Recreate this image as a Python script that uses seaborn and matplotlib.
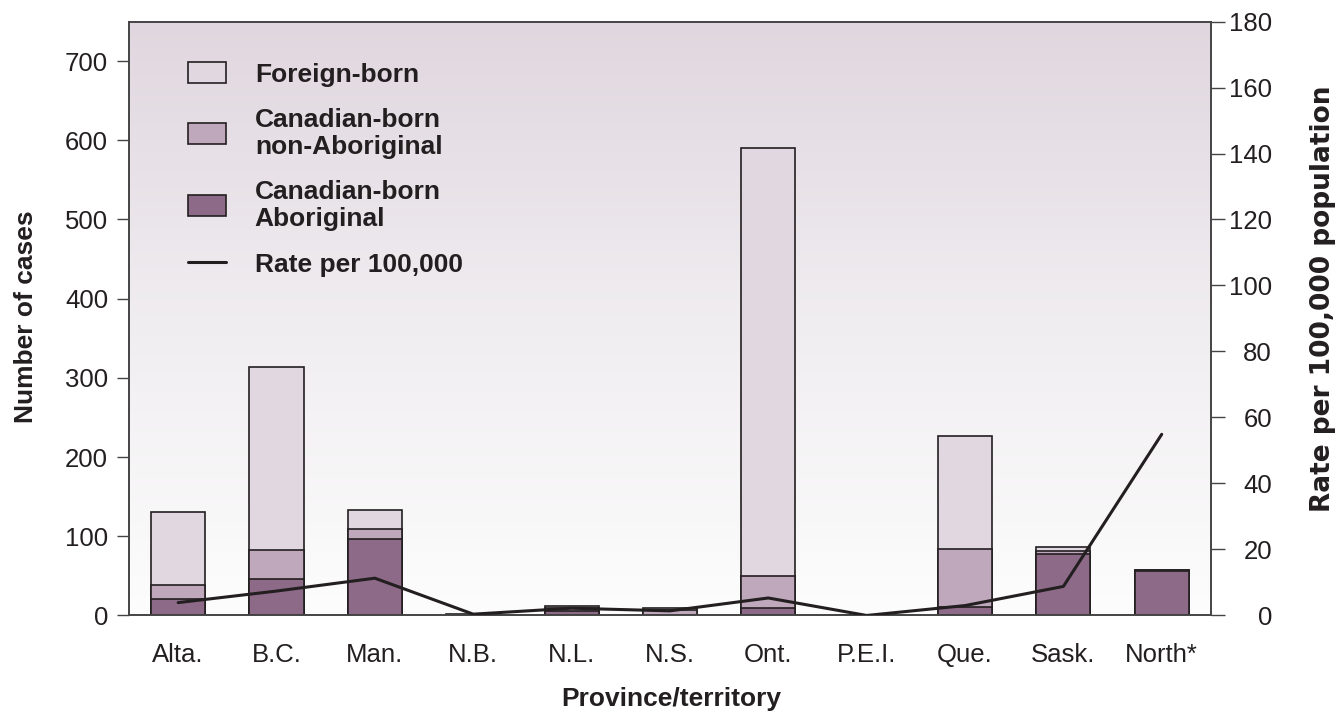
import numpy as np
import pandas as pd
import matplotlib
matplotlib.use("Agg")
import matplotlib.pyplot as plt
from matplotlib.colors import LinearSegmentedColormap
from matplotlib.patches import Patch
from matplotlib.lines import Line2D
import seaborn as sns

# --- data ---
provinces = ["Alta.", "B.C.", "Man.", "N.B.", "N.L.", "N.S.", "Ont.", "P.E.I.", "Que.", "Sask.", "North*"]
aboriginal = [21, 46, 96, 0, 6, 1, 9, 0, 11, 78, 56]
non_aboriginal = [18, 37, 13, 1, 4, 6, 41, 0, 73, 3, 1]
foreign_born = [92, 231, 24, 1, 2, 2, 540, 0, 143, 6, 1]
rate = [3.9, 7.4, 11.3, 0.4, 2.2, 1.4, 5.3, 0.0, 3.0, 8.8, 54.9]

# --- style ---
sns.set_style("white")
plt.rcParams["font.family"] = ["Liberation Sans", "DejaVu Sans"]

c_foreign = "#e1d7e0"
c_nonab = "#bfa8bb"
c_ab = "#8e6a89"
c_edge = "#231f20"
c_axis = "#444444"
fs = 18.5

df = pd.DataFrame({
    "province": provinces,
    "ab": aboriginal,
    "nonab": non_aboriginal,
    "foreign": foreign_born,
})
df["mid"] = df["ab"] + df["nonab"]
df["total"] = df["mid"] + df["foreign"]

fig = plt.figure(figsize=(13.38, 7.17), dpi=100)
ax = fig.add_axes([0.0964, 0.1416, 0.8086, 0.8284])

# gradient background (light mauve at top, almost white at bottom)
grad = LinearSegmentedColormap.from_list("bg", ["#fdfdfd", "#f0edf0", "#e0d6df"])
ax.imshow(np.linspace(0, 1, 256).reshape(-1, 1), cmap=grad, origin="lower",
          extent=[0, 1, 0, 1], transform=ax.transAxes, aspect="auto", zorder=0)

# stacked bars drawn as overlapping cumulative totals
for col, color in [("total", c_foreign), ("mid", c_nonab), ("ab", c_ab)]:
    sns.barplot(data=df, x="province", y=col, color=color, edgecolor=c_edge,
                linewidth=1.2, width=0.55, saturation=1, ax=ax, zorder=2)

ax.set_xlim(-0.5, 10.5)
ax.set_ylim(0, 750)
ax.set_yticks(range(0, 701, 100))
ax.set_xticks(np.arange(len(provinces)))
ax.set_xticklabels(provinces)
ax.set_xticks(np.arange(-0.5, 11, 1), minor=True)
ax.tick_params(axis="x", which="major", length=0, pad=20, labelsize=fs, labelcolor="#231f20")
ax.tick_params(axis="x", which="minor", length=9, width=1, color=c_axis, direction="out")
ax.tick_params(axis="y", length=8.6, width=1, color=c_axis, direction="out", pad=6.5,
               labelsize=fs, labelcolor="#231f20", left=True)
ax.set_xlabel("Province/territory", fontsize=19, fontweight="bold", color="#231f20")
ax.set_ylabel("Number of cases", fontsize=19, fontweight="bold", color="#231f20")
ax.xaxis.set_label_coords(0.501, -0.121)
ax.yaxis.set_label_coords(-0.0845, 0.503)
for s in ax.spines.values():
    s.set_color(c_axis)
    s.set_linewidth(1.2)

# rate line on secondary axis
ax2 = ax.twinx()
sns.lineplot(x=np.arange(len(provinces)), y=rate, color=c_edge, linewidth=2.2, ax=ax2, zorder=3)
ax2.set_ylim(0, 180)
ax2.set_yticks(range(0, 181, 20))
ax2.tick_params(axis="y", length=10, width=1, color=c_axis, direction="out", pad=34,
                labelsize=fs, labelcolor="#231f20", right=True)
plt.setp(ax2.get_yticklabels(), ha="right")
ax2.set_ylabel("Rate per 100,000 population", fontsize=19, fontweight="bold",
               family="DejaVu Sans", color="#231f20")
ax2.yaxis.set_label_coords(1.092, 0.534)
for s in ax2.spines.values():
    s.set_color(c_axis)
    s.set_linewidth(1.2)

handles = [
    Patch(facecolor=c_foreign, edgecolor=c_edge, linewidth=1.2),
    Patch(facecolor=c_nonab, edgecolor=c_edge, linewidth=1.2),
    Patch(facecolor=c_ab, edgecolor=c_edge, linewidth=1.2),
    Line2D([0], [0], color=c_edge, linewidth=2.2),
]
labels = ["Foreign-born", "Canadian-born\nnon-Aboriginal", "Canadian-born\nAboriginal", "Rate per 100,000"]
leg = ax2.legend(handles, labels, loc="upper left", bbox_to_anchor=(0.0543, 0.932), frameon=False,
                 prop={"size": 19, "weight": "bold"}, handlelength=1.44, handleheight=0.88,
                 handletextpad=1.1, labelspacing=0.8, borderpad=0, borderaxespad=0)
for t in leg.get_texts():
    t.set_linespacing(1.15)
    t.set_color("#231f20")

fig.savefig("out.png", dpi=100)
